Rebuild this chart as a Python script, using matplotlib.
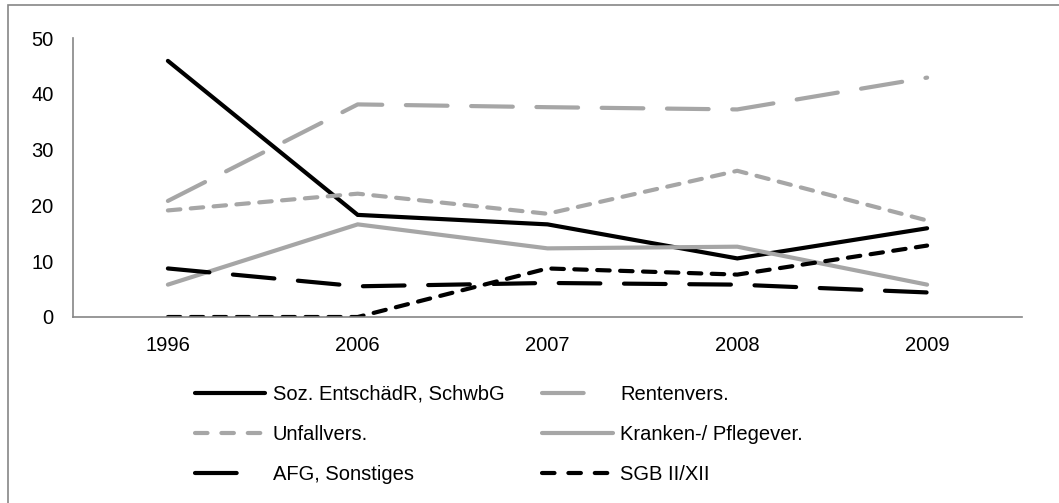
import matplotlib.pyplot as plt
from matplotlib.lines import Line2D
from matplotlib.patches import Rectangle

plt.rcParams['font.family'] = ['Liberation Sans', 'DejaVu Sans']
plt.rcParams['lines.scale_dashes'] = False

years = ['1996', '2006', '2007', '2008', '2009']
soz = [45.9, 18.3, 16.6, 10.5, 15.9]
renten = [20.8, 38.1, 37.6, 37.2, 42.9]
unfall = [19.1, 22.1, 18.5, 26.2, 17.3]
kranken = [5.8, 16.6, 12.3, 12.6, 5.8]
afg = [8.7, 5.5, 6.1, 5.8, 4.4]
sgb = [0.0, 0.0, 8.7, 7.6, 12.8]

black = '#000000'
gray = '#a6a6a6'
long_dash = (0, (30, 17))
short_dash = (0, (9, 7.5))

fig = plt.figure(figsize=(10.59, 5.03), dpi=100)
ax = fig.add_axes([73 / 1059, 1 - 317 / 503, (1022 - 73) / 1059, (317 - 38) / 503])

x = range(len(years))
kw = dict(linewidth=3, dash_capstyle='round', solid_capstyle='round', solid_joinstyle='miter')
ax.plot(x, soz, color=black, linestyle='-', **kw)
ax.plot(x, renten, color=gray, linestyle=long_dash, **kw)
ax.plot(x, unfall, color=gray, linestyle=short_dash, **kw)
ax.plot(x, kranken, color=gray, linestyle='-', **kw)
ax.plot(x, afg, color=black, linestyle=long_dash, **kw)
ax.plot(x, sgb, color=black, linestyle=short_dash, **kw)

ax.set_xlim(-0.5, len(years) - 0.5)
ax.set_ylim(0, 50)
ax.set_yticks([0, 10, 20, 30, 40, 50])
ax.set_xticks(list(x))
ax.set_xticklabels(years)
ax.tick_params(axis='both', length=0, labelsize=14.5, colors='#000000')
ax.tick_params(axis='y', pad=14)
ax.tick_params(axis='x', pad=14)
for side in ['top', 'right']:
    ax.spines[side].set_visible(False)
for side in ['left', 'bottom']:
    ax.spines[side].set_color('#868686')
    ax.spines[side].set_linewidth(1.2)

# legend keys: the original shows one long dash and three short dashes per key
leg_long = (0, (30, 40))
leg_short = (0, (9, 10))
handles = [
    Line2D([], [], color=black, linestyle='-', **kw),
    Line2D([], [], color=gray, linestyle=leg_short, **kw),
    Line2D([], [], color=black, linestyle=leg_long, **kw),
    Line2D([], [], color=gray, linestyle=leg_long, **kw),
    Line2D([], [], color=gray, linestyle='-', **kw),
    Line2D([], [], color=black, linestyle=leg_short, **kw),
]
# filled row by row in the original, matplotlib fills column by column
labels = ['Soz. EntschädR, SchwbG', 'Unfallvers.', 'AFG, Sonstiges',
          'Rentenvers.', 'Kranken-/ Pflegever.', 'SGB II/XII']
fig.legend(handles=handles, labels=labels,
           loc='upper left', bbox_to_anchor=(195 / 1059, 1 - 385 / 503), ncol=2,
           frameon=False, fontsize=14.5, handlelength=3.5, handletextpad=0.35,
           columnspacing=1.9, labelspacing=1.05, borderpad=0, borderaxespad=0)

fig.patches.append(Rectangle((8 / 1059, -0.1), 1.2, 1 - 5.5 / 503 + 0.1,
                             transform=fig.transFigure, fill=False,
                             edgecolor='#868686', linewidth=1.2))

fig.savefig('out.png', dpi=100)
